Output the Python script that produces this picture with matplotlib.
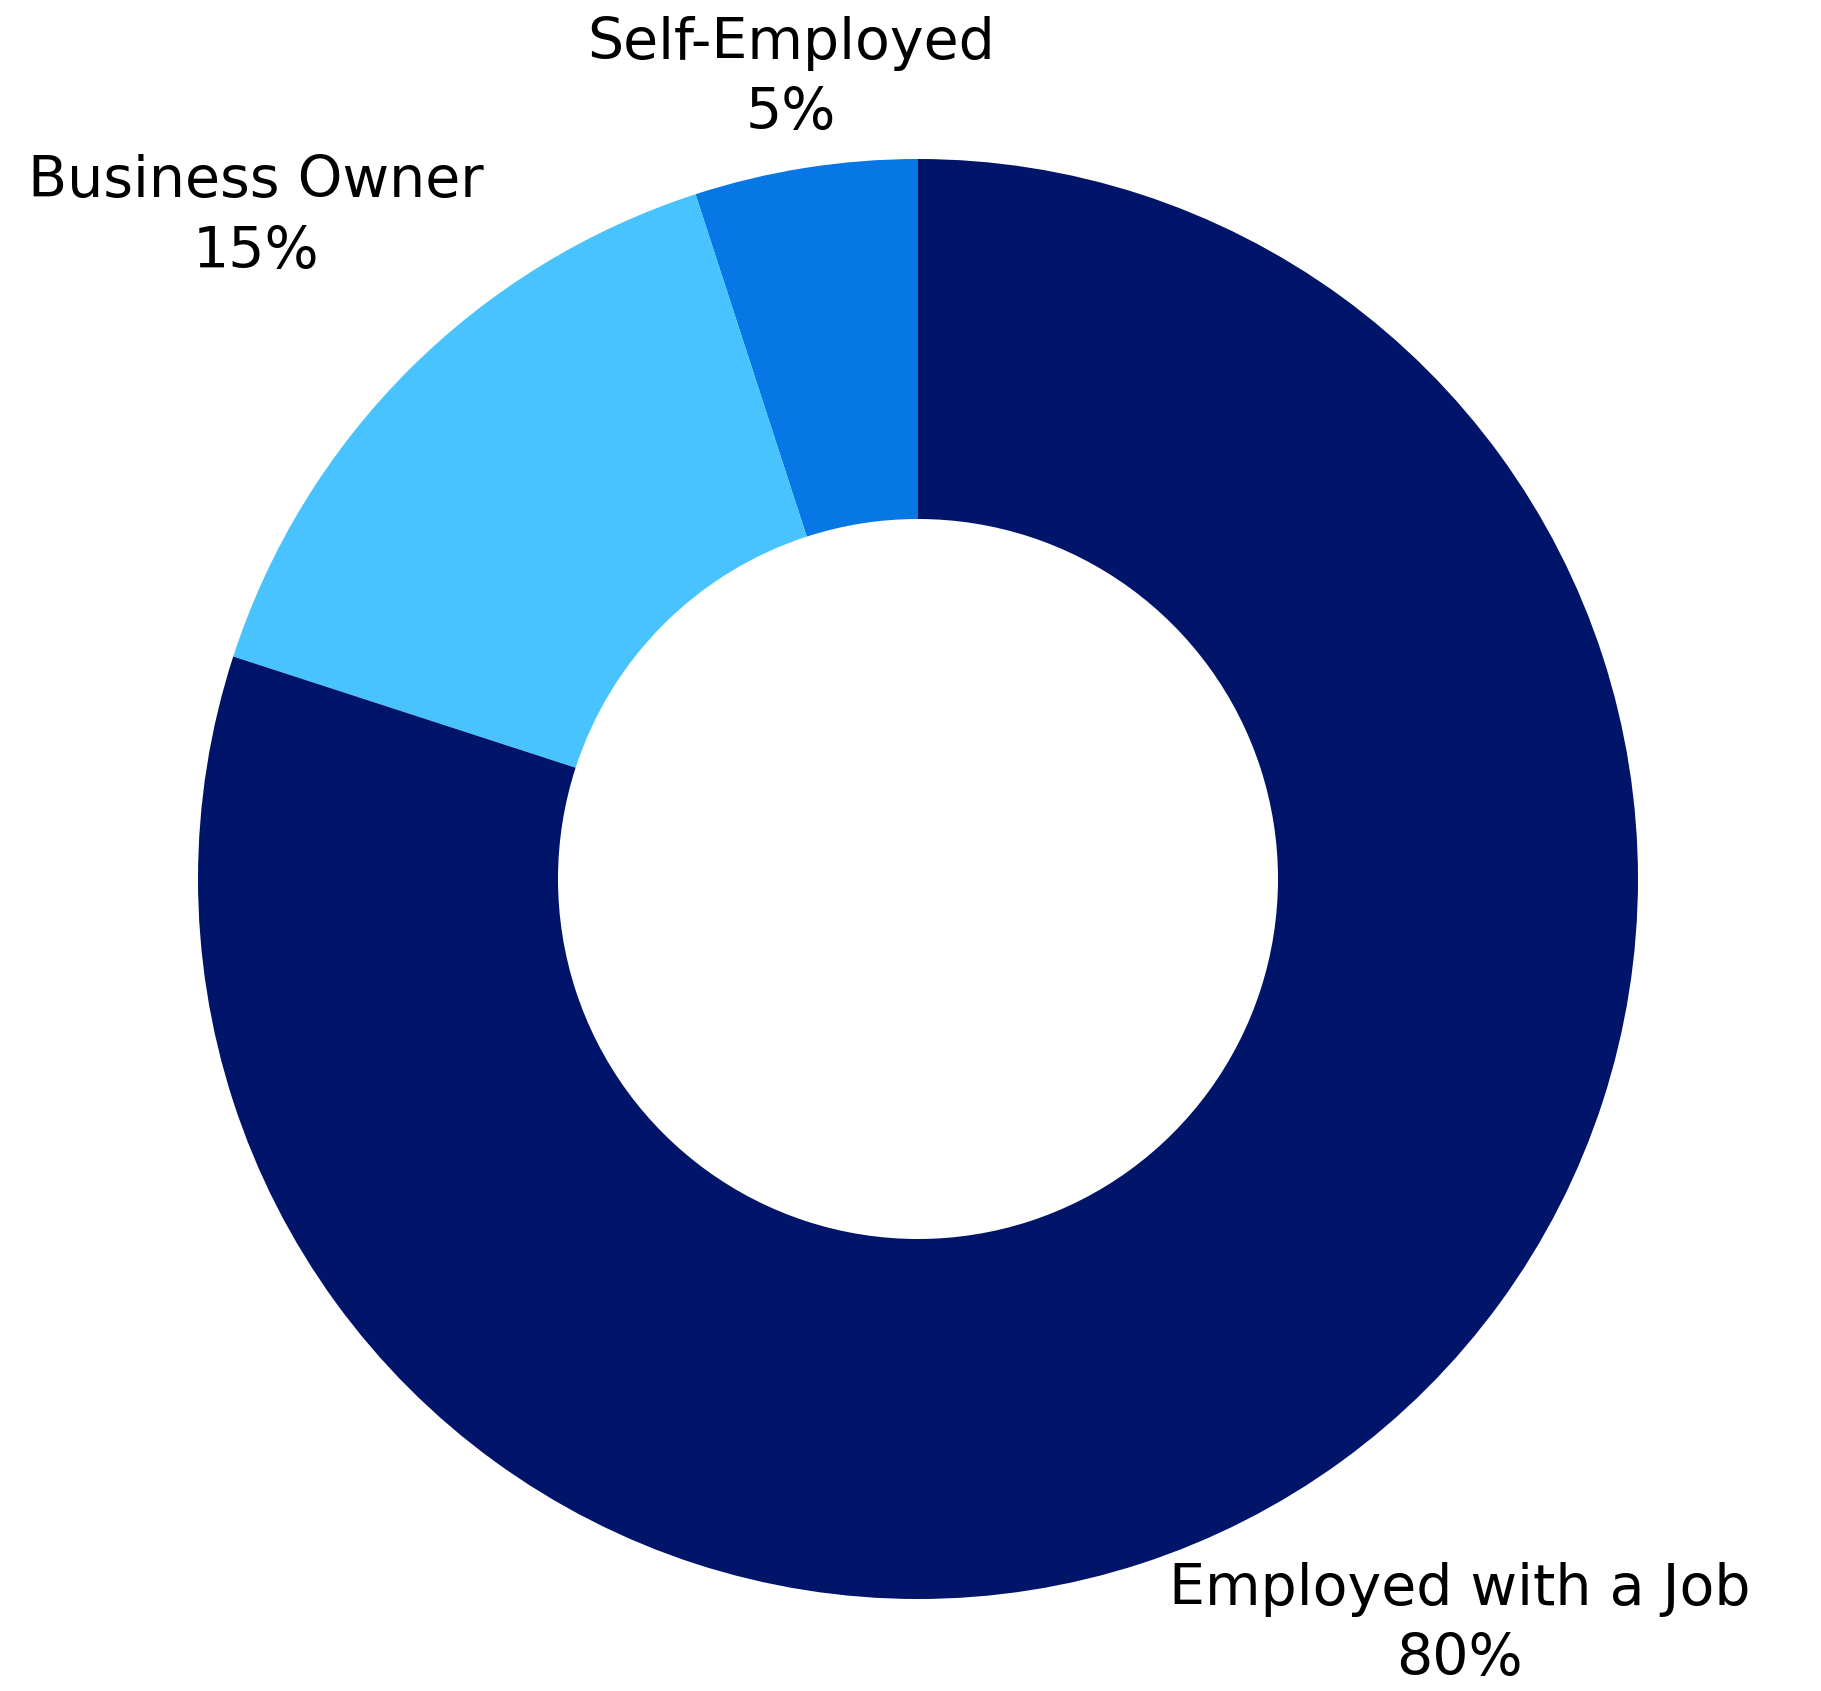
import numpy as np
import matplotlib
matplotlib.use("Agg")
import matplotlib.pyplot as plt

# employment breakdown
labels = ["Self-Employed", "Business Owner", "Employed with a Job"]
shares = [5, 15, 80]
colors = ["#0777E6", "#48C3FD", "#00146A"]
label_dist = [1.126, 1.3, 1.28]

W, H, DPI = 1821, 1691, 100
cx, cy, R = 918, 879, 720  # pie centre and radius in pixels

fig = plt.figure(figsize=(W / DPI, H / DPI), dpi=DPI)
ax = fig.add_axes([0, 0, 1, 1])

wedges, _ = ax.pie(shares, colors=colors, startangle=90, counterclock=True,
                   radius=1.0, wedgeprops=dict(width=0.5, linewidth=0))

for w, lab, val, d in zip(wedges, labels, shares, label_dist):
    mid = np.deg2rad((w.theta1 + w.theta2) / 2)
    ax.text(d * np.cos(mid), d * np.sin(mid), f"{lab}\n{val}%",
            ha="center", va="center", fontsize=41, family="DejaVu Sans",
            linespacing=1.36, color="black")

ax.set_xlim(-cx / R, (W - cx) / R)
ax.set_ylim(-(H - cy) / R, cy / R)
ax.set_aspect("equal")
ax.axis("off")

fig.savefig("out.png", dpi=DPI, facecolor="white")
